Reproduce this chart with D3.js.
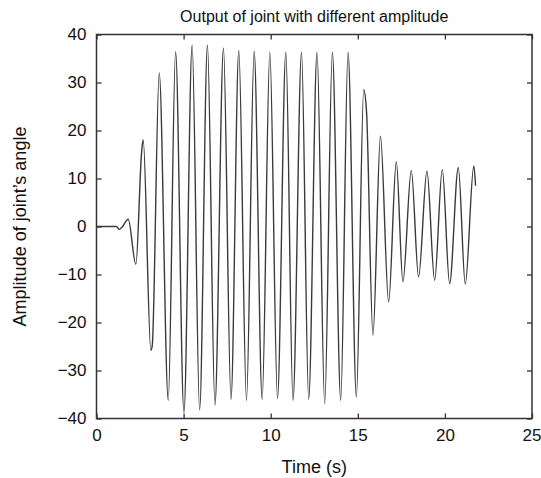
<!DOCTYPE html>
<html>
<head>
<meta charset="utf-8">
<script src="https://cdn.jsdelivr.net/npm/d3@7"></script>
<style>
  html, body { margin: 0; padding: 0; background: #fff; }
  svg { display: block; }
  text { font-family: "Liberation Sans", Arial, sans-serif; fill: #111; }
</style>
</head>
<body>
<svg id="chart" width="541" height="478"></svg>
<script>
// ---- data ----
const time = [0, 1.0, 1.15, 1.29, 1.45, 1.82, 2.26, 2.59, 2.68, 3.12, 3.2, 3.6, 4.12, 4.54, 5.02, 5.49, 5.92, 6.37, 6.8, 7.29, 7.72, 8.17, 8.61, 9.05, 9.51, 9.95, 10.39, 10.87, 11.28, 11.77, 12.18, 12.66, 13.1, 13.54, 14.02, 14.44, 14.92, 15.34, 15.5, 15.87, 16.3, 16.77, 17.21, 17.59, 18.07, 18.49, 18.97, 19.41, 19.85, 20.27, 20.77, 21.17, 21.66, 21.76];
const angle = [0, 0, 0, -0.6, -0.2, 1.5, -7.9, 15.5, 18.1, -25.8, -24.8, 32, -36.2, 36.4, -38.8, 37.8, -38.2, 37.8, -37.2, 37.2, -36.0, 36.7, -36.2, 36.5, -36.0, 36.3, -35.8, 36.3, -36.2, 36.3, -36.0, 36.3, -36.9, 36.3, -36.2, 36.3, -35.5, 28.5, 24.0, -22.6, 18.8, -15.7, 13.5, -11.5, 11.7, -10.5, 11.5, -11.2, 11.9, -11.9, 12.3, -12.0, 12.6, 8.5];
const xTicks = [0, 5, 10, 15, 20, 25];
const yTicks = [-40, -30, -20, -10, 0, 10, 20, 30, 40];
const title = "Output of joint with different amplitude";
const xLabel = "Time (s)";
const yLabel = "Amplitude of joint\u2019s angle";

// ---- layout ----
const svg = d3.select("#chart");
const L = 96.5, R = 532, T = 34.5, B = 418.5;
const x = d3.scaleLinear().domain([0, 25]).range([L, R]);
const y = d3.scaleLinear().domain([-40, 40]).range([B, T]);
const tickLen = 5;

// line
const data = time.map((t, i) => ({ t, v: angle[i] }));
const line = d3.line().x(d => x(d.t)).y(d => y(d.v)).curve(d3.curveMonotoneX);
svg.append("path").datum(data)
  .attr("d", line)
  .attr("fill", "none")
  .attr("stroke", "#3a3a3a")
  .attr("stroke-width", 1.4)
  .attr("stroke-linejoin", "round");

// axes: inward ticks on all four sides
const fmt = d => d < 0 ? "\u2212" + Math.abs(d) : String(d);
const axB = svg.append("g").attr("transform", `translate(0,${B})`)
  .call(d3.axisBottom(x).tickValues(xTicks).tickSize(-tickLen).tickPadding(10).tickFormat(fmt));
const axT = svg.append("g").attr("transform", `translate(0,${T})`)
  .call(d3.axisTop(x).tickValues(xTicks).tickSize(-tickLen).tickFormat(""));
const axLft = svg.append("g").attr("transform", `translate(${L},0)`)
  .call(d3.axisLeft(y).tickValues(yTicks).tickSize(-tickLen).tickPadding(10).tickFormat(fmt));
const axRt = svg.append("g").attr("transform", `translate(${R},0)`)
  .call(d3.axisRight(y).tickValues(yTicks).tickSize(-tickLen).tickFormat(""));
[axB, axT, axLft, axRt].forEach(g => {
  g.select(".domain").remove();
  g.selectAll("line").attr("stroke", "#333").attr("stroke-width", 1.3);
  g.selectAll("text").attr("font-size", 17).attr("fill", "#111")
    .attr("font-family", "Liberation Sans, Arial, sans-serif");
});
// keep the last x label inside the window
axB.selectAll(".tick text").filter(d => d === 25).attr("text-anchor", "end").attr("x", 9);

// frame
svg.append("rect").attr("x", L).attr("y", T).attr("width", R - L).attr("height", B - T)
  .attr("fill", "none").attr("stroke", "#333").attr("stroke-width", 1.5);

// titles
svg.append("text").attr("x", (L + R) / 2).attr("y", 22).attr("text-anchor", "middle")
  .attr("font-size", 16).text(title);
svg.append("text").attr("x", (L + R) / 2).attr("y", 473).attr("text-anchor", "middle")
  .attr("font-size", 18).text(xLabel);
svg.append("text").attr("transform", `translate(26,${(T + B) / 2}) rotate(-90)`)
  .attr("text-anchor", "middle").attr("font-size", 18).text(yLabel);
</script>
</body>
</html>
